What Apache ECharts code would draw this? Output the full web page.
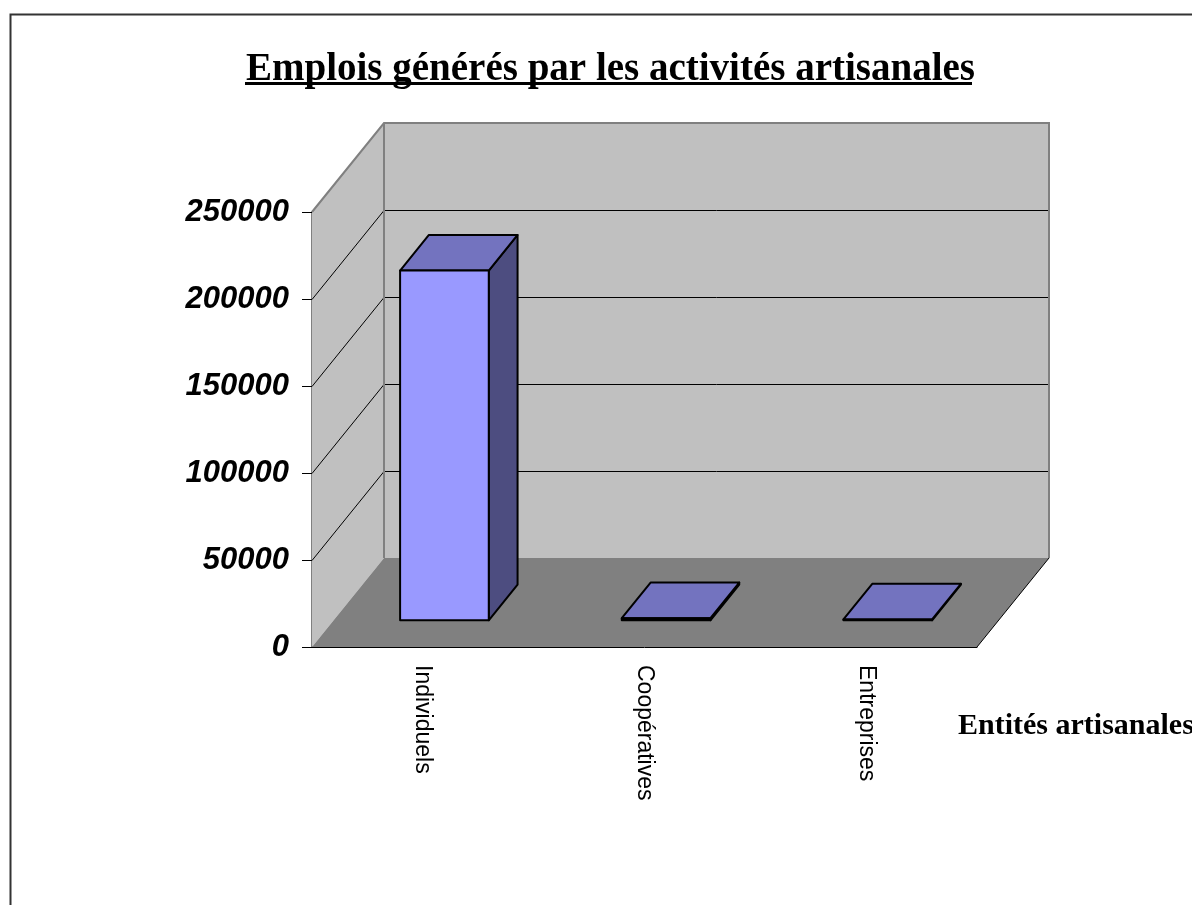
<!DOCTYPE html>
<html>
<head>
<meta charset="utf-8">
<title>Emplois générés par les activités artisanales</title>
<script src="https://cdn.jsdelivr.net/npm/echarts@6/dist/echarts.min.js"></script>
<style>
  html, body { margin: 0; padding: 0; background: #fff; }
  #chart { width: 1192px; height: 905px; }
</style>
</head>
<body>
<div id="chart"></div>
<script>
  var categories = ['Individuels', 'Coopératives', 'Entreprises'];
  var emplois = [201000, 1200, 500];
  var yTicks = [0, 50000, 100000, 150000, 200000, 250000];

  // décalage de la profondeur (effet 3D)
  var DX = 72;
  var DY = -89;

  var chart = echarts.init(document.getElementById('chart'));

  function renderWalls(params, api) {
    var cs = params.coordSys;
    var x0 = cs.x, x1 = cs.x + cs.width;
    var yB = cs.y + cs.height, yT = cs.y;
    var children = [];
    // mur gauche
    children.push({
      type: 'polygon',
      shape: { points: [[x0, yT], [x0 + DX, yT + DY], [x0 + DX, yB + DY], [x0, yB]] },
      style: { fill: '#c0c0c0', stroke: null }
    });
    // mur du fond
    children.push({
      type: 'rect',
      shape: { x: x0 + DX, y: yT + DY, width: cs.width, height: cs.height },
      style: { fill: '#c0c0c0', stroke: null }
    });
    // sol
    children.push({
      type: 'polygon',
      shape: { points: [[x0, yB], [x1, yB], [x1 + DX, yB + DY], [x0 + DX, yB + DY]] },
      style: { fill: '#808080', stroke: null }
    });
    // quadrillage
    for (var i = 1; i < yTicks.length - 1; i++) {
      var y = Math.round(api.coord([0, yTicks[i]])[1]) + 0.5;
      children.push({
        type: 'polyline',
        shape: { points: [[x0, y], [x0 + DX, y + DY], [x1 + DX, y + DY]] },
        style: { stroke: '#000', lineWidth: 1, fill: null }
      });
    }
    // bords gris
    children.push({
      type: 'polyline',
      shape: { points: [[x0, yT], [x0 + DX, yT + DY], [x1 + DX, yT + DY], [x1 + DX, yB + DY]] },
      style: { stroke: '#808080', lineWidth: 2, fill: null }
    });
    children.push({
      type: 'line',
      shape: { x1: x0 + DX, y1: yT + DY, x2: x0 + DX, y2: yB + DY },
      style: { stroke: '#808080', lineWidth: 2 }
    });
    children.push({
      type: 'line',
      shape: { x1: x1, y1: yB, x2: x1 + DX, y2: yB + DY },
      style: { stroke: '#000', lineWidth: 1 }
    });
    return { type: 'group', children: children };
  }

  function renderBar(params, api) {
    var idx = api.value(0);
    var bottom = api.coord([idx, 0]);
    var top = api.coord([idx, api.value(1)]);
    var w = api.size([1, 0])[0] * 0.4;
    var fx = 0.3 * DX, fy = 0.3 * DY;
    var bx = 0.7 * DX, by = 0.7 * DY;
    var l = bottom[0] - w / 2, r = bottom[0] + w / 2;
    var yb = bottom[1], yt = top[1];
    var st = { stroke: '#000', lineWidth: 2, lineJoin: 'round' };
    return {
      type: 'group',
      children: [
        {
          type: 'polygon',
          shape: { points: [[r + fx, yt + fy], [r + bx, yt + by], [r + bx, yb + by], [r + fx, yb + fy]] },
          style: Object.assign({ fill: '#4d4d80' }, st)
        },
        {
          type: 'polygon',
          shape: { points: [[l + fx, yt + fy], [r + fx, yt + fy], [r + bx, yt + by], [l + bx, yt + by]] },
          style: Object.assign({ fill: '#7373bf' }, st)
        },
        {
          type: 'rect',
          shape: { x: l + fx, y: yt + fy, width: w, height: yb - yt },
          style: Object.assign({ fill: '#9999ff' }, st)
        }
      ]
    };
  }

  chart.setOption({
    animation: false,
    title: {
      text: 'Emplois générés par les activités artisanales',
      left: 241,
      top: 45,
      textStyle: {
        fontFamily: 'Liberation Serif',
        fontWeight: 'bold',
        fontSize: 39,
        color: '#000'
      }
    },
    graphic: [
      {
        type: 'rect',
        left: 8,
        top: 12,
        shape: { x: 0, y: 0, width: 1400, height: 1000 },
        style: { fill: null, stroke: '#333', lineWidth: 2 },
        silent: true
      },
      {
        type: 'line',
        shape: { x1: 245, y1: 83.5, x2: 972, y2: 83.5 },
        style: { stroke: '#000', lineWidth: 3 }
      },
      {
        type: 'text',
        left: 958,
        top: 711,
        style: {
          text: 'Entités artisanales',
          fontFamily: 'Liberation Serif',
          fontWeight: 'bold',
          fontSize: 30,
          fill: '#000'
        }
      }
    ],
    grid: {
      left: 312,
      right: 215,
      top: 212,
      bottom: 258
    },
    xAxis: {
      type: 'category',
      data: categories,
      axisLine: { lineStyle: { color: '#000', width: 1 } },
      axisTick: { length: 12, lineStyle: { color: '#000' } },
      axisLabel: {
        rotate: -90,
        margin: 18,
        fontFamily: 'Liberation Sans',
        fontSize: 23,
        color: '#000'
      }
    },
    yAxis: {
      type: 'value',
      min: 0,
      max: 250000,
      interval: 50000,
      axisLine: { show: true, lineStyle: { color: '#808080', width: 2 } },
      axisTick: { show: true, length: 10, lineStyle: { color: '#000' } },
      splitLine: { show: false },
      axisLabel: {
        margin: 23,
        formatter: function (v) { return String(v); },
        fontFamily: 'Liberation Sans',
        fontWeight: 'bold',
        fontStyle: 'italic',
        fontSize: 31,
        color: '#000'
      }
    },
    series: [
      {
        type: 'custom',
        z: 1,
        silent: true,
        renderItem: renderWalls,
        data: [[0, 0]]
      },
      {
        type: 'custom',
        name: 'Emplois',
        z: 3,
        renderItem: renderBar,
        data: categories.map(function (c, i) { return [i, emplois[i]]; })
      }
    ]
  });
</script>
</body>
</html>
